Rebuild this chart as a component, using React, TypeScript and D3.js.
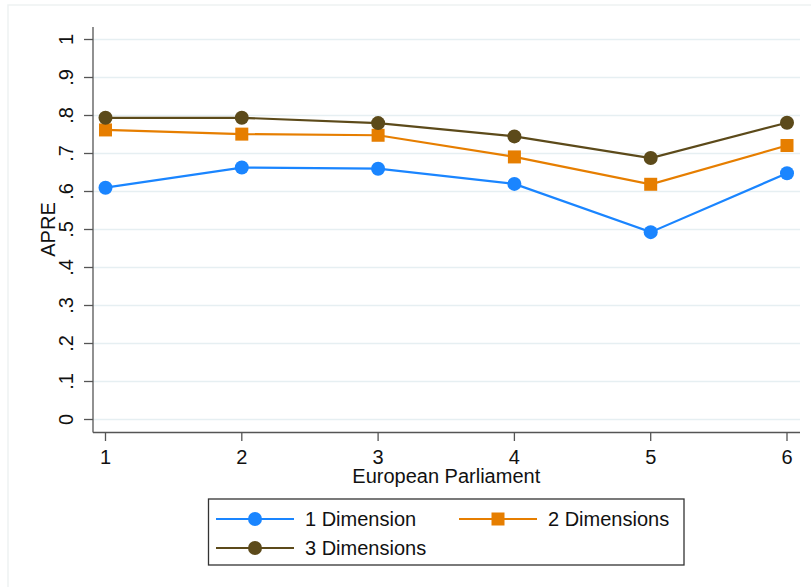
import React from "react";
import * as d3 from "d3";

const parliaments = [1, 2, 3, 4, 5, 6];
const oneDim = [0.61, 0.663, 0.66, 0.62, 0.493, 0.648];
const twoDim = [0.762, 0.751, 0.748, 0.691, 0.619, 0.721];
const threeDim = [0.794, 0.794, 0.78, 0.745, 0.688, 0.781];
const yTicks = [0, 0.1, 0.2, 0.3, 0.4, 0.5, 0.6, 0.7, 0.8, 0.9, 1];
const yTickLabels = ["0", ".1", ".2", ".3", ".4", ".5", ".6", ".7", ".8", ".9", "1"];
const seriesNames = ["1 Dimension", "2 Dimensions", "3 Dimensions"];
const seriesColors = ["#1a85ff", "#e67e00", "#5c4a1a"];
const seriesShapes = ["circle", "square", "circle"];

const W = 811;
const H = 587;
const FONT = "'Liberation Sans', Arial, sans-serif";
const FS = 20;

export default function App() {
  const x = d3.scaleLinear().domain([1, 6]).range([105.5, 787]);
  const y = d3.scaleLinear().domain([0, 1]).range([419.5, 39.5]);
  const plotLeft = 93;
  const plotRight = 800;
  const plotTop = 27;
  const plotBottom = 432.5;

  const allSeries = [oneDim, twoDim, threeDim];
  const line = d3
    .line<number>()
    .x((_, i) => x(parliaments[i]))
    .y((d) => y(d));

  const marker = (shape: string, cx: number, cy: number, color: string, key: string) =>
    shape === "square" ? (
      <rect key={key} x={cx - 6.5} y={cy - 6.5} width={13} height={13} fill={color} />
    ) : (
      <circle key={key} cx={cx} cy={cy} r={7} fill={color} />
    );

  const legendItems = [
    { lx: 216, ly: 519 },
    { lx: 459, ly: 519 },
    { lx: 216, ly: 548 },
  ];

  return (
    <svg
      width={W}
      height={H}
      style={{ position: "absolute", left: 0, top: 0, background: "#fff" }}
      fontFamily={FONT}
    >
      <rect x={0} y={0} width={W} height={H} fill="#fff" />
      {/* outer graph region border */}
      <rect x={8} y={5} width={W + 10} height={H + 10} fill="none" stroke="#eef2f2" strokeWidth={1.5} />

      {/* gridlines */}
      {yTicks.map((t) => (
        <line key={"g" + t} x1={plotLeft} x2={plotRight} y1={y(t)} y2={y(t)} stroke="#e6eff2" strokeWidth={1.6} />
      ))}

      {/* y axis */}
      <line x1={plotLeft} x2={plotLeft} y1={plotTop} y2={plotBottom} stroke="#555" strokeWidth={1.3} />
      {yTicks.map((t, i) => (
        <g key={"yt" + t}>
          <line x1={plotLeft - 9} x2={plotLeft} y1={y(t)} y2={y(t)} stroke="#555" strokeWidth={1.3} />
          <text
            transform={`translate(73,${y(t)}) rotate(-90)`}
            textAnchor="middle"
            fontSize={FS}
            fill="#111"
          >
            {yTickLabels[i]}
          </text>
        </g>
      ))}
      <text transform={`translate(55,${(y(0) + y(1)) / 2}) rotate(-90)`} textAnchor="middle" fontSize={FS} fill="#111">
        APRE
      </text>

      {/* x axis */}
      <line x1={plotLeft} x2={plotRight} y1={plotBottom} y2={plotBottom} stroke="#555" strokeWidth={1.3} />
      {parliaments.map((p) => (
        <g key={"xt" + p}>
          <line x1={x(p)} x2={x(p)} y1={plotBottom} y2={plotBottom + 8.5} stroke="#555" strokeWidth={1.3} />
          <text x={x(p)} y={464} textAnchor="middle" fontSize={FS} fill="#111">
            {p}
          </text>
        </g>
      ))}
      <text x={(x(1) + x(6)) / 2} y={483} textAnchor="middle" fontSize={FS} fill="#111">
        European Parliament
      </text>

      {/* series */}
      {allSeries.map((s, si) => (
        <g key={"s" + si}>
          <path d={line(s) || ""} fill="none" stroke={seriesColors[si]} strokeWidth={2.2} />
          {s.map((v, i) => marker(seriesShapes[si], x(parliaments[i]), y(v), seriesColors[si], `m${si}-${i}`))}
        </g>
      ))}

      {/* legend */}
      <rect x={208.5} y={499} width={475.5} height={66} fill="#fff" stroke="#333" strokeWidth={1.3} />
      {legendItems.map((it, i) => (
        <g key={"l" + i}>
          <line x1={it.lx} x2={it.lx + 78} y1={it.ly} y2={it.ly} stroke={seriesColors[i]} strokeWidth={2.2} />
          {marker(seriesShapes[i], it.lx + 39, it.ly, seriesColors[i], "lm" + i)}
          <text x={it.lx + 89} y={it.ly + 7} fontSize={FS} fill="#111">
            {seriesNames[i]}
          </text>
        </g>
      ))}
    </svg>
  );
}
